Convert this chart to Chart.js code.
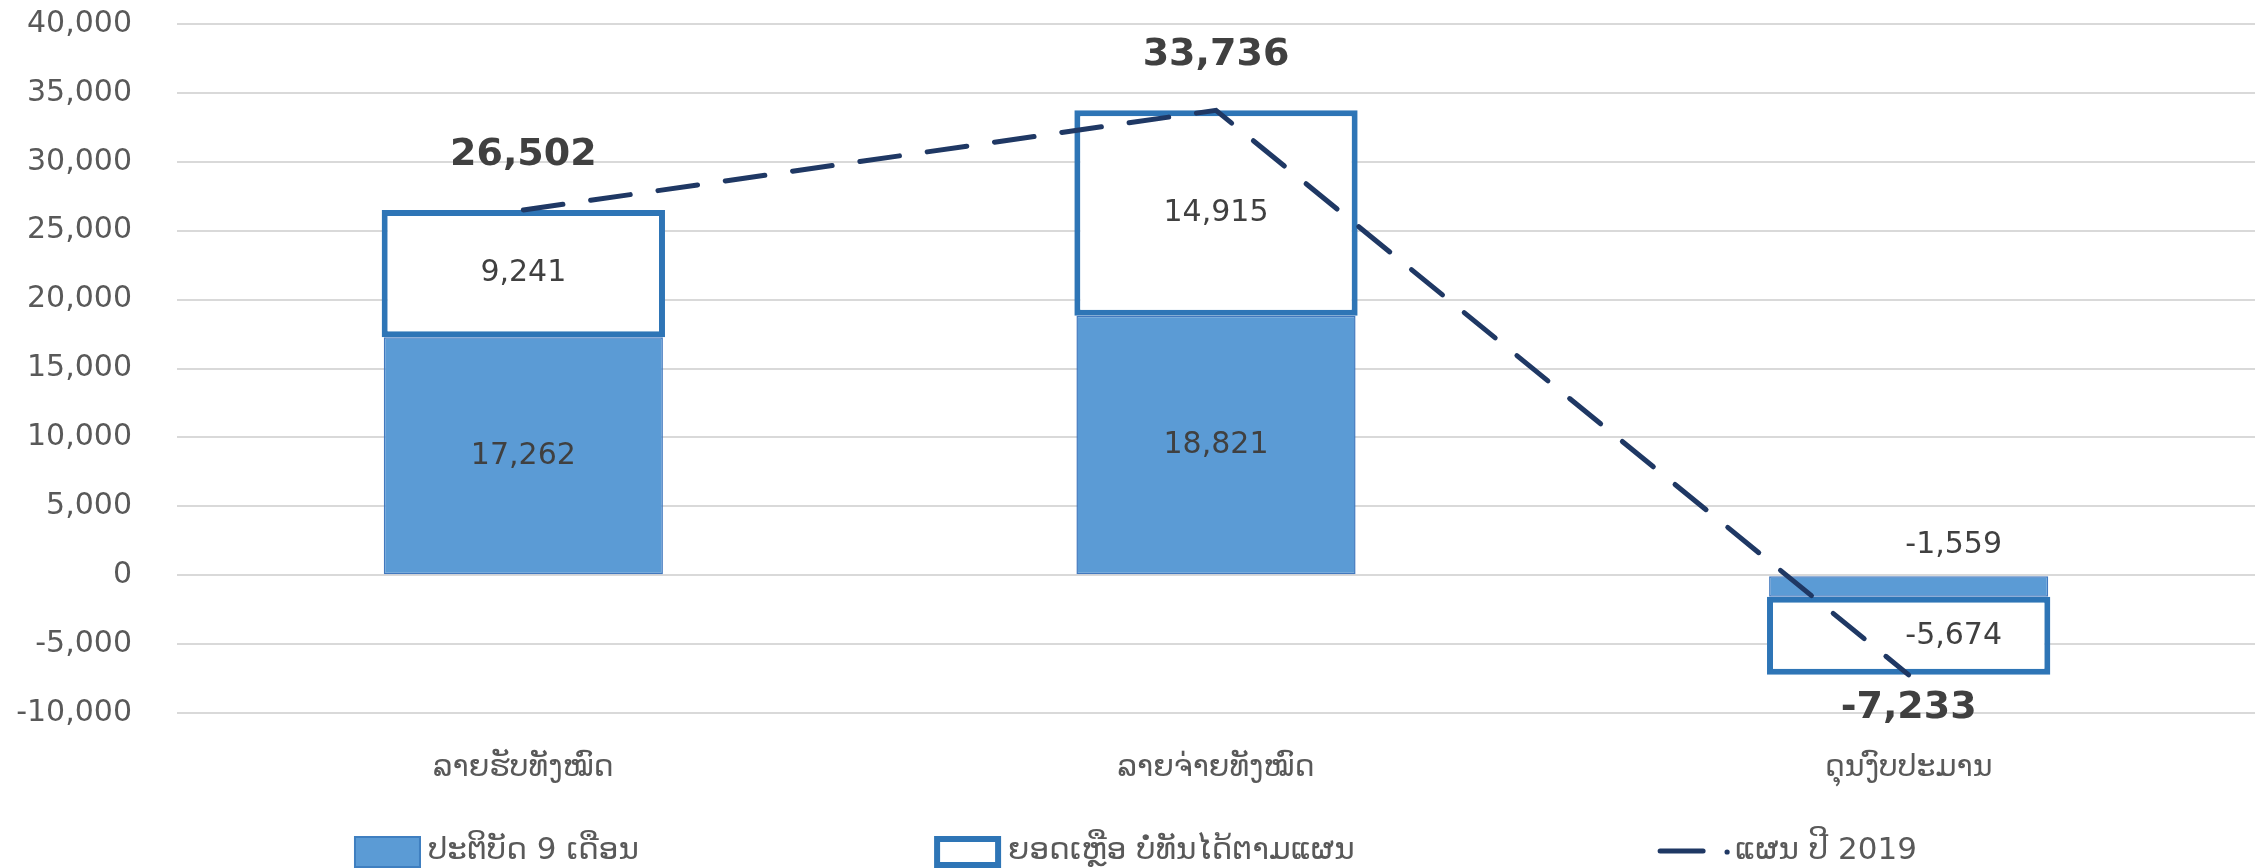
<!DOCTYPE html>
<html>
<head>
<meta charset="utf-8">
<script src="https://cdn.jsdelivr.net/npm/chart.js@4.4.0/dist/chart.umd.min.js"></script>
<style>
html, body { margin: 0; padding: 0; background: #ffffff; }
canvas { display: block; }
</style>
</head>
<body>
<canvas id="c" width="2259" height="868"></canvas>
<script>
// ---- data ----
const categories = ['ລາຍຮັບທັງໝົດ', 'ລາຍຈ່າຍທັງໝົດ', 'ດຸນງົບປະມານ'];
const seriesNames = ['ປະຕິບັດ 9 ເດືອນ', 'ຍອດເຫຼືອ ບໍ່ທັນໄດ້ຕາມແຜນ', 'ແຜນ ປີ 2019'];
const actual9Months = [17262, 18821, -1559];
const remainingToPlan = [9241, 14915, -5674];
const plan2019 = [26502, 33736, -7233];
const yMin = -10000;
const yMax = 40000;
const yStep = 5000;

const FONT = "'DejaVu Sans', 'Liberation Sans', sans-serif";
const fmt = v => v.toLocaleString('en-US');

const valueLabels = {
  id: 'valueLabels',
  afterDatasetsDraw(chart, args, opts) {
    const ctx = chart.ctx;
    ctx.save();
    ctx.textAlign = 'center';
    ctx.textBaseline = 'middle';
    chart.data.datasets.forEach((ds, di) => {
      const meta = chart.getDatasetMeta(di);
      if (meta.hidden) return;
      meta.data.forEach((el, i) => {
        const v = ds.data[i];
        const dx = (opts.shiftX && opts.shiftX[i]) || 0;
        let x = el.x, y;
        if (meta.type === 'bar') {
          ctx.font = `30px ${FONT}`;
          ctx.fillStyle = '#404040';
          const h = Math.abs(el.base - el.y);
          if (h < 40) {
            y = Math.min(el.base, el.y) - 31;
          } else {
            y = (el.y + el.base) / 2;
          }
          x += dx;
        } else {
          ctx.font = `bold 38px ${FONT}`;
          ctx.fillStyle = '#404040';
          y = v >= 0 ? el.y - 55 : el.y + 33;
        }
        ctx.fillText(fmt(v), x, y);
      });
    });
    ctx.restore();
  }
};

const customLegend = {
  id: 'customLegend',
  afterDraw(chart) {
    const ctx = chart.ctx;
    const W = chart.width;
    const starts = [0.1567, 0.4135, 0.734].map(f => f * W);
    const yc = 851;
    const boxTop = 836, boxH = 32, boxW = 67;
    ctx.save();
    ctx.font = `31px ${FONT}`;
    ctx.textBaseline = 'middle';
    ctx.textAlign = 'left';
    // item 1: filled box
    let x = starts[0];
    ctx.fillStyle = '#5B9BD5';
    ctx.fillRect(x, boxTop, boxW, boxH);
    ctx.strokeStyle = '#3F7FC0';
    ctx.lineWidth = 2;
    ctx.strokeRect(x + 1, boxTop + 1, boxW - 2, boxH - 2);
    ctx.fillStyle = '#595959';
    ctx.fillText(seriesNames[0], x + boxW + 7, yc);
    // item 2: outlined box
    x = starts[1];
    ctx.fillStyle = '#ffffff';
    ctx.fillRect(x, boxTop, boxW, boxH);
    ctx.strokeStyle = '#2E75B6';
    ctx.lineWidth = 6;
    ctx.strokeRect(x + 3, boxTop + 3, boxW - 6, boxH - 6);
    ctx.fillStyle = '#595959';
    ctx.fillText(seriesNames[1], x + boxW + 7, yc);
    // item 3: dashed line
    x = starts[2];
    ctx.strokeStyle = '#1F3864';
    ctx.lineWidth = 5;
    ctx.lineCap = 'round';
    ctx.beginPath();
    ctx.moveTo(x + 2, yc);
    ctx.lineTo(x + 45, yc);
    ctx.stroke();
    ctx.beginPath();
    ctx.arc(x + 69, yc + 1, 2.6, 0, Math.PI * 2);
    ctx.fillStyle = '#1F3864';
    ctx.fill();
    ctx.fillStyle = '#595959';
    ctx.fillText(seriesNames[2], x + 77, yc);
    ctx.restore();
  }
};

new Chart(document.getElementById('c'), {
  data: {
    labels: categories,
    datasets: [
      {
        type: 'line',
        label: seriesNames[2],
        data: plan2019,
        borderColor: '#1F3864',
        borderWidth: 5,
        borderDash: [40, 28],
        borderCapStyle: 'round',
        pointRadius: 0,
        pointHoverRadius: 0,
        fill: false,
        tension: 0,
        order: 0
      },
      {
        type: 'bar',
        label: seriesNames[0],
        data: actual9Months,
        backgroundColor: '#5B9BD5',
        borderColor: '#4178BE',
        borderWidth: 1.5,
        borderSkipped: false,
        categoryPercentage: 1,
        barPercentage: 0.403,
        order: 1
      },
      {
        type: 'bar',
        label: seriesNames[1],
        data: remainingToPlan,
        backgroundColor: '#ffffff',
        borderColor: '#2E75B6',
        borderWidth: 6,
        borderSkipped: false,
        categoryPercentage: 1,
        barPercentage: 0.409,
        order: 2
      }
    ]
  },
  options: {
    responsive: false,
    animation: false,
    devicePixelRatio: 1,
    layout: { padding: { top: 24, right: 4, left: 0, bottom: 0 } },
    plugins: {
      legend: { display: false },
      tooltip: { enabled: false },
      valueLabels: { shiftX: [0, 0, 45] }
    },
    scales: {
      x: {
        stacked: true,
        grid: { display: false, drawTicks: false },
        border: { display: false },
        ticks: {
          color: '#595959',
          font: { family: FONT, size: 30 },
          padding: 37,
          maxRotation: 0
        },
        afterFit(scale) { scale.height = 155; }
      },
      y: {
        stacked: true,
        min: yMin,
        max: yMax,
        grid: { color: '#D9D9D9', lineWidth: 2, drawTicks: false },
        border: { display: false },
        ticks: {
          stepSize: yStep,
          color: '#595959',
          font: { family: FONT, size: 30 },
          padding: 45,
          callback: v => fmt(v)
        },
        afterFit(scale) {
          scale.width = 177;
          scale.paddingTop = 0;
          scale.paddingBottom = 0;
        }
      }
    }
  },
  plugins: [valueLabels, customLegend]
});
</script>
</body>
</html>
